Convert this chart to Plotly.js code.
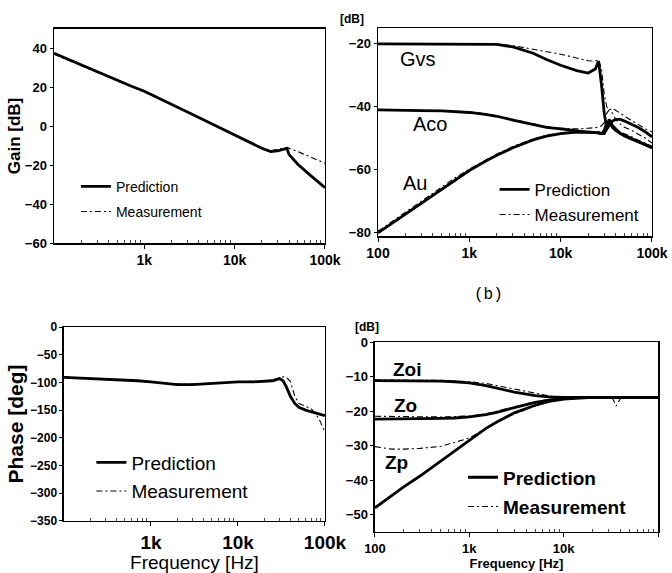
<!DOCTYPE html>
<html><head><meta charset="utf-8">
<script src="https://cdn.plot.ly/plotly-3.0.1.min.js"></script>
<style>html,body{margin:0;padding:0;background:#fff}#c{width:672px;height:573px}</style>
</head><body><div id="c"></div>
<script>
// ---- Data ----
const fGain = [100,150,200,300,500,700,1000,1500,2000,3000,5000,7000,10000,15000,20000,25000,30000,35000,38000,40000,50000,70000,100000];
const gainPred = [37.5,34,31.5,28,23.5,20.8,18,14.2,11.4,7.3,2.3,-1,-4.5,-8.3,-11.3,-13,-12.6,-11.8,-11.5,-14.5,-19.5,-25.5,-31.5];
const gainMeas = [37,33.5,31,27.5,23,20.5,17.6,14,11.2,7.5,2.5,-0.8,-4.2,-8,-11,-12.5,-12,-11.3,-10.8,-11.3,-13,-16,-19];

const fPhase = [100,150,200,300,500,700,1000,1500,2000,3000,5000,7000,10000,15000,20000,25000,30000,33000,36000,40000,45000,50000,60000,70000,85000,100000];
const phasePred = [-91,-92,-93,-94,-96,-97,-99,-102,-104,-104,-102,-100,-99,-99,-98,-97,-93,-97,-108,-125,-138,-145,-150,-153,-157,-160];
const phaseMeas = [-90,-92,-93,-95,-96,-98,-100,-102,-103,-103,-101,-100,-99,-98,-97,-95,-92,-90,-91,-98,-125,-138,-143,-148,-165,-190];

const fTR = [100,150,200,300,500,700,1000,1500,2000,3000,5000,7000,10000,15000,20000,24000,26000,28000,30000,32000,34000,37000,40000,45000,50000,60000,70000,85000,100000];
const gvsPred = [-20,-20,-20,-20,-20,-20,-20,-20,-20.2,-21,-23,-25,-26.8,-28.5,-29.3,-28,-25.5,-33,-42,-47,-46,-44.5,-44,-44,-44.5,-45.5,-46.5,-48,-49.5];
const gvsMeas = [-20,-20,-20,-20,-20,-20,-20,-20,-20.1,-20.6,-21.8,-22.6,-23.3,-24.5,-25.4,-25.5,-25,-28,-36,-40,-41,-40.5,-41,-42,-43,-44.5,-45.5,-47,-48];
const acoPred = [-41,-41,-41.1,-41.2,-41.3,-41.5,-41.8,-42.4,-43,-44.2,-45.6,-46.5,-47,-47.7,-48,-48.2,-48.4,-48.5,-47.5,-45,-44.5,-46.5,-47.5,-48.5,-49.3,-50.3,-51,-52,-53];
const acoMeas = [-41,-41,-41,-41.1,-41.2,-41.4,-41.6,-42.2,-42.8,-44,-45.4,-46.3,-46.8,-47,-46.8,-46.6,-46.5,-46,-45,-42,-41,-42,-44,-45.5,-46.5,-47.5,-48.5,-50,-51.5];
const auPred = [-80,-76.5,-74,-70.5,-66,-63,-60.2,-57.3,-55.4,-53,-50.5,-49.3,-48.5,-48,-48,-48,-48.2,-48.5,-48.5,-47,-44,-46,-47,-48.5,-49,-50,-51,-52,-53];
const auMeas = [-79.5,-76,-73.5,-70,-65.5,-62.5,-59.8,-57,-55,-52.6,-50.2,-49,-48.3,-47.8,-48,-48,-48,-48,-47.5,-46,-45,-46,-47,-48,-48.5,-49.5,-50.5,-51.5,-52.5];

const fBR = [100,150,200,300,500,700,1000,1500,2000,3000,5000,7000,10000,15000,20000,30000,33000,36000,40000,50000,70000,100000];
const zoiPred = [-11.2,-11.2,-11.2,-11.2,-11.3,-11.5,-11.8,-12.6,-13.4,-14.5,-15.5,-15.9,-16,-16,-16,-16,-16,-16,-16,-16,-16,-16];
const zoiMeas = [-11,-11,-11,-11,-11.1,-11.3,-11.5,-12,-12.6,-13.6,-14.8,-15.6,-16,-16,-16,-16,-16.3,-18.5,-16.3,-16,-16,-16];
const zoPred = [-22.3,-22.3,-22.3,-22.2,-22.1,-22,-21.7,-21,-20.3,-19,-17.5,-16.8,-16.3,-16,-16,-16,-16,-16,-16,-16,-16,-16];
const zoMeas = [-21.5,-21.6,-21.6,-21.7,-21.7,-21.6,-21.4,-20.8,-20,-18.8,-17.3,-16.6,-16.2,-16,-16,-16,-16,-16,-16,-16,-16,-16];
const zpPred = [-48,-44.5,-42,-38.8,-34.5,-31.5,-28.5,-25,-23,-20.5,-18.3,-17.2,-16.5,-16.2,-16,-16,-16,-16,-16,-16,-16,-16];
const zpMeas = [-30.3,-31,-31,-30.8,-30.2,-29,-27.8,-25,-23,-20.8,-18.5,-17.3,-16.6,-16.2,-16,-16,-16,-16,-16,-16,-16,-16];

const ticksK = ['100','1k','10k','100k'];
const tickF = [100,1000,10000,100000];
const minorF = [200,300,400,500,600,700,800,900,2000,3000,4000,5000,6000,7000,8000,9000,20000,30000,40000,50000,60000,70000,80000,90000];

// ---- Styles ----
const F = 'Liberation Sans, Arial, sans-serif';
const predLine = {color:'#000', width:2.8};
const measLine = {color:'#000', width:1.1, dash:'6px,3px,2px,3px'};

function tr(x,y,xa,ya,line,name,leg,show,rank){
  return {x:x,y:y,xaxis:xa,yaxis:ya,mode:'lines',line:line,name:name,
    legend:leg,showlegend:show,legendgroup:leg+name,legendrank:rank||1000,hoverinfo:'skip'};
}
const data = [
  tr(fGain,gainMeas,'x','y',measLine,'Measurement','legend',true,2),
  tr(fGain,gainPred,'x','y',predLine,'Prediction','legend',true,1),
  tr(fTR,gvsMeas,'x2','y2',measLine,'Measurement','legend2',true,2),
  tr(fTR,acoMeas,'x2','y2',measLine,'m2','legend2',false),
  tr(fTR,auMeas,'x2','y2',measLine,'m3','legend2',false),
  tr(fTR,gvsPred,'x2','y2',predLine,'Prediction','legend2',true,1),
  tr(fTR,acoPred,'x2','y2',predLine,'p2','legend2',false),
  tr(fTR,auPred,'x2','y2',predLine,'p3','legend2',false),
  tr(fPhase,phaseMeas,'x3','y3',measLine,'Measurement','legend3',true,2),
  tr(fPhase,phasePred,'x3','y3',predLine,'Prediction','legend3',true,1),
  tr(fBR,zoiMeas,'x4','y4',measLine,'Measurement','legend4',true,2),
  tr(fBR,zoMeas,'x4','y4',measLine,'m2','legend4',false),
  tr(fBR,zpMeas,'x4','y4',measLine,'m3','legend4',false),
  tr(fBR,zoiPred,'x4','y4',predLine,'Prediction','legend4',true,1),
  tr(fBR,zoPred,'x4','y4',predLine,'p2','legend4',false),
  tr(fBR,zpPred,'x4','y4',predLine,'p3','legend4',false)
];

function xax(dom,anchor,size,vals,texts){
  return {type:'log',range:[2,5],domain:dom,anchor:anchor,showgrid:false,zeroline:false,
    showline:true,mirror:true,linecolor:'#000',linewidth:1.5,
    tickmode:'array',tickvals:vals,ticktext:texts,ticks:'outside',ticklen:4,tickcolor:'#000',
    minor:{tickmode:'array',tickvals:minorF,ticks:'inside',ticklen:3,tickcolor:'#444',showgrid:false},
    tickfont:{family:F,size:size,color:'#000',weight:'bold'}};
}
function yax(dom,anchor,range,dtick,size){
  return {range:range,domain:dom,anchor:anchor,showgrid:false,zeroline:false,
    showline:true,mirror:true,linecolor:'#000',linewidth:1.5,
    tickmode:'linear',tick0:0,dtick:dtick,ticks:'outside',ticklen:3,tickcolor:'#000',
    tickfont:{family:F,size:size,color:'#000',weight:'bold'}};
}
function leg(x,y,size,bold,gap){
  return {x:x,y:y,xanchor:'left',yanchor:'top',bgcolor:'rgba(0,0,0,0)',borderwidth:0,
    traceorder:'grouped',tracegroupgap:gap,itemwidth:30,
    font:{family:F,size:size,color:'#000',weight:bold?'bold':'normal'}};
}

const xa1 = xax([0.0804,0.4836],'y',14,tickF.slice(1),ticksK.slice(1));
const ya1 = yax([0.5759,0.9494],'x',[-60,50],20,13);
ya1.title = {text:'Gain [dB]',font:{family:F,size:17,color:'#000',weight:'bold'},standoff:0};
const xa2 = xax([0.5625,0.9702],'y2',14,tickF,ticksK);
const ya2 = yax([0.5881,0.9511],'x2',[-81,-15],20,13);
const xa3 = xax([0.0952,0.4836],'y3',19,tickF.slice(1),ticksK.slice(1));
xa3.title = {text:'Frequency [Hz]',font:{family:F,size:19,color:'#000'},standoff:2};
const ya3 = yax([0.0908,0.4293],'x3',[-350,0],50,12);
ya3.title = {text:'Phase [deg]',font:{family:F,size:21,color:'#000',weight:'bold'},standoff:0};
const xa4 = xax([0.5580,0.9792],'y4',13,tickF,ticksK);
xa4.title = {text:'Frequency [Hz]',font:{family:F,size:13,color:'#000',weight:'bold'},standoff:2};
const ya4 = yax([0.0716,0.4031],'x4',[-55,0],10,13);

const ann = (x,y,xr,yr,t,size,bold,fam)=>({x:x,y:y,xref:xr,yref:yr,text:t,showarrow:false,
  font:{family:fam||F,size:size,color:'#000',weight:bold?'bold':'normal'}});

const layout = {
  width:672,height:573,margin:{l:0,r:0,t:0,b:0},paper_bgcolor:'#fff',plot_bgcolor:'#fff',
  xaxis:xa1,yaxis:ya1,xaxis2:xa2,yaxis2:ya2,xaxis3:xa3,yaxis3:ya3,xaxis4:xa4,yaxis4:ya4,
  legend:leg(0.113,0.702,14,false,4),
  legend2:leg(0.736,0.700,17,false,0),
  legend3:leg(0.136,0.226,19,false,1),
  legend4:leg(0.689,0.200,19,true,1.5),
  annotations:[
    ann(2.44,-24.7,'x2','y2','Gvs',20,false),
    ann(2.57,-45.6,'x2','y2','Aco',20,false),
    ann(2.41,-64.2,'x2','y2','Au',20,false),
    ann(2.34,-8,'x4','y4','Zoi',19,true),
    ann(2.32,-18.3,'x4','y4','Zo',19,true),
    ann(2.23,-34.9,'x4','y4','Zp',19,true),
    ann(0.7515,0.485,'paper','paper','(b)',16,false,'Liberation Mono, Courier New, monospace'),
    ann(0.524,0.982,'paper','paper','[dB]',12,true),
    ann(0.546,0.429,'paper','paper','[dB]',12,true)
  ]
};
Plotly.newPlot('c',data,layout,{staticPlot:true,displayModeBar:false});
</script></body></html>
